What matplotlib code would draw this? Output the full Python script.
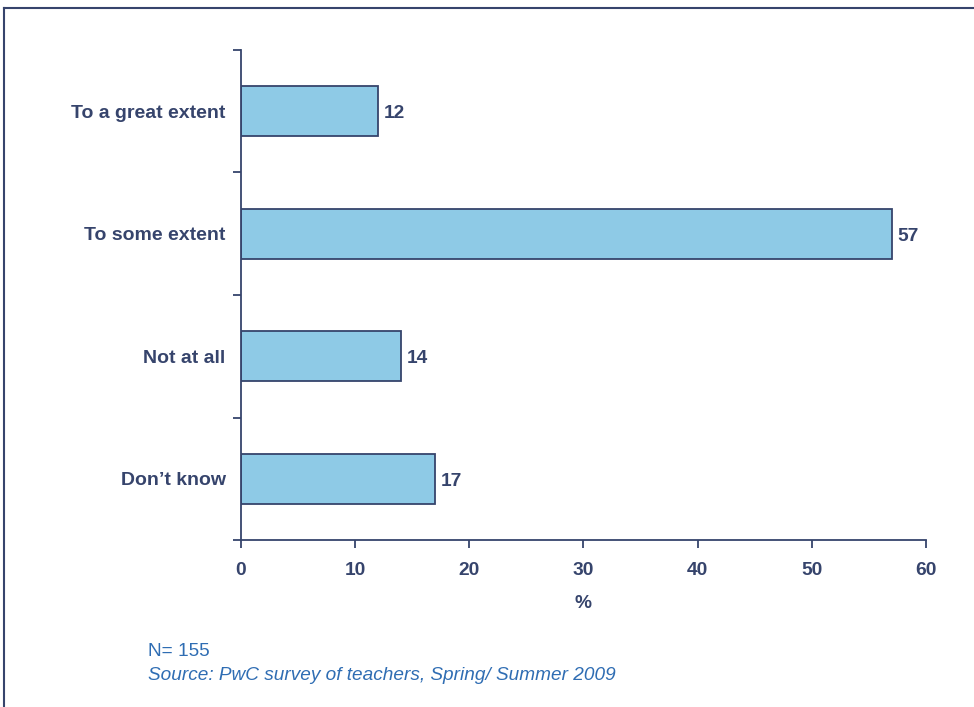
import matplotlib.pyplot as plt
from matplotlib.lines import Line2D

plt.rcParams['font.family'] = ['Liberation Sans', 'DejaVu Sans']

categories = ['To a great extent', 'To some extent', 'Not at all', 'Don\u2019t know']
values = [12, 57, 14, 17]
xticks = [0, 10, 20, 30, 40, 50, 60]

navy = '#36446c'
bar_blue = '#8ecae6'
note_blue = '#2f6db3'

fig = plt.figure(figsize=(9.74, 7.07), dpi=100)
ax = fig.add_axes([0.2474, 0.2362, 0.7033, 0.6931])

ypos = list(range(len(categories)))
ax.barh(ypos, values, height=0.41, color=bar_blue, edgecolor=navy, linewidth=1.3)
for y, v in zip(ypos, values):
    ax.text(v + 0.5, y + 0.02, str(v), va='center', ha='left', fontsize=13.8,
            fontweight='bold', color=navy)

ax.set_xlim(0, 60)
ax.set_ylim(len(categories) - 0.5, -0.5)
ax.set_xticks(xticks)
ax.set_xticklabels([str(t) for t in xticks], fontsize=13.8, fontweight='bold', color=navy)

# category labels sit between the boundary ticks
ax.set_yticks([i - 0.5 for i in range(len(categories) + 1)])
ax.set_yticklabels([])
ax.set_yticks(ypos, minor=True)
ax.set_yticklabels(categories, minor=True, fontsize=14, fontweight='bold', color=navy)
ax.tick_params(axis='y', which='minor', length=0, pad=11)
ax.tick_params(axis='y', which='major', length=6, width=1.3, color=navy)
ax.tick_params(axis='x', length=6, width=1.3, color=navy, pad=10)

ax.set_xlabel('%', fontsize=13.8, fontweight='bold', color=navy, labelpad=11)

for side in ['top', 'right']:
    ax.spines[side].set_visible(False)
for side in ['left', 'bottom']:
    ax.spines[side].set_color(navy)
    ax.spines[side].set_linewidth(1.3)

fig.text(148 / 974, 1 - 651 / 707, 'N= 155', fontsize=13.7, color=note_blue, va='center')
fig.text(148 / 974, 1 - 675 / 707, 'Source: PwC survey of teachers, Spring/ Summer 2009',
         fontsize=13.7, color=note_blue, style='italic', va='center')

# outer frame, cut off at the right and bottom
fig.add_artist(Line2D([4 / 974, 1], [1 - 8 / 707, 1 - 8 / 707], color=navy, lw=1.5,
                      transform=fig.transFigure))
fig.add_artist(Line2D([4 / 974, 4 / 974], [0, 1 - 8 / 707], color=navy, lw=1.5,
                      transform=fig.transFigure))

fig.savefig('out.png', dpi=100)
